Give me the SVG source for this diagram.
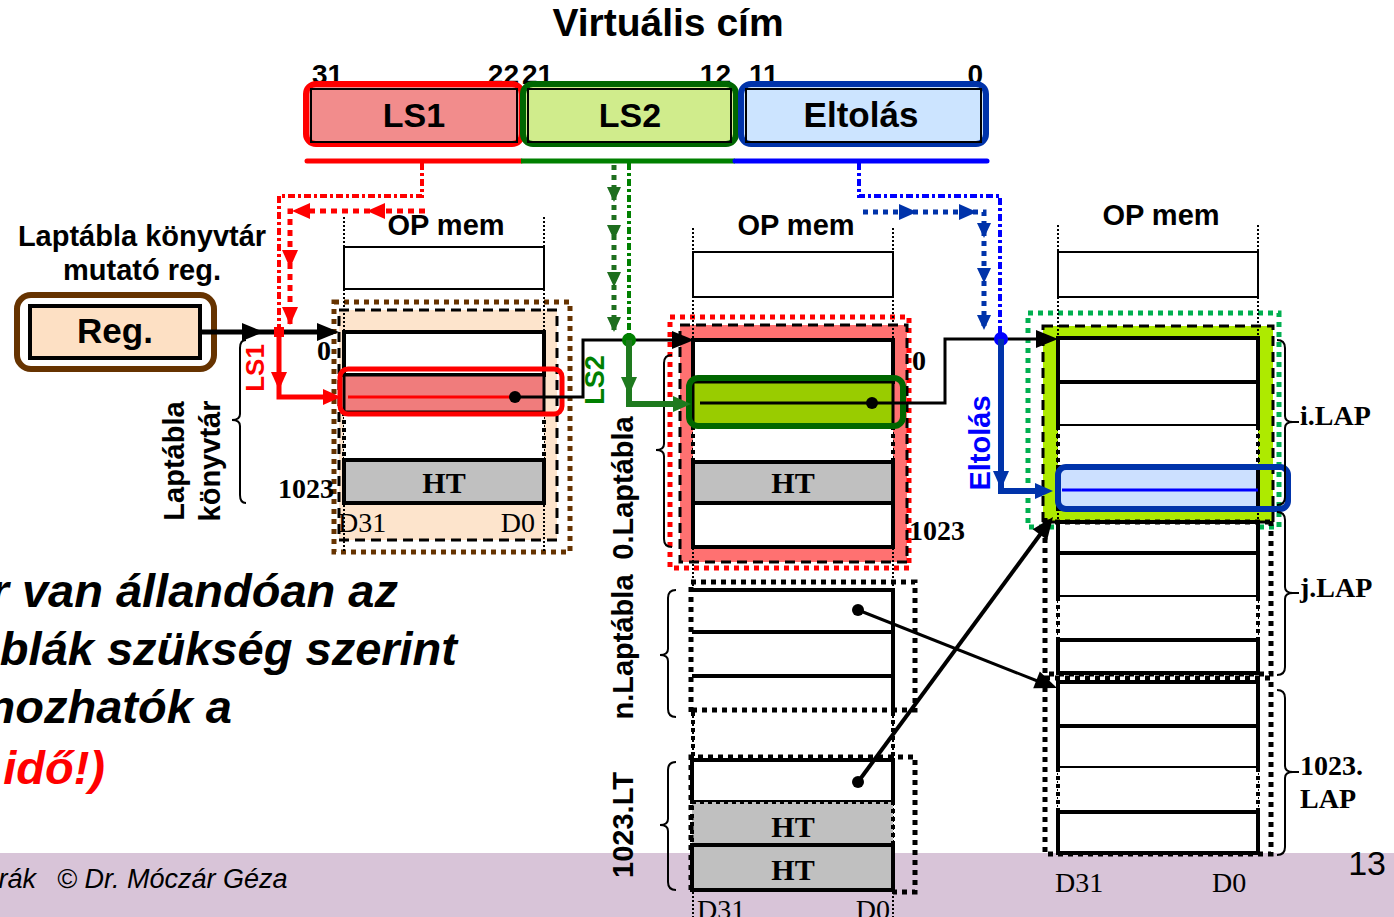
<svg xmlns="http://www.w3.org/2000/svg" width="1394" height="917" viewBox="0 0 1394 917">
<defs>
<style>
.sb{font-family:"Liberation Sans",Arial,Helvetica,sans-serif;font-weight:bold}
.sr{font-family:"Liberation Sans",Arial,Helvetica,sans-serif}
.fb{font-family:"Liberation Serif","Times New Roman",serif;font-weight:bold}
.fr{font-family:"Liberation Serif","Times New Roman",serif}
.cell{fill:#fff;stroke:#000;stroke-width:4}
.top{fill:#fff;stroke:#000;stroke-width:2}
.guide{fill:none;stroke:#000;stroke-width:2;stroke-dasharray:2 2}
.dside{fill:none;stroke:#000;stroke-width:4;stroke-dasharray:4 4}
.dotbox{fill:none;stroke:#000;stroke-width:5;stroke-dasharray:5 5}
.dash{fill:none;stroke:#000;stroke-width:3;stroke-dasharray:10 6}
.conn{fill:none;stroke:#000;stroke-width:3}
.brace{fill:none;stroke:#000;stroke-width:2}
.gray{fill:#C0C0C0;stroke:#000;stroke-width:4}
.mid{text-anchor:middle}
.end{text-anchor:end}
.note{font-family:"Liberation Sans",Arial,Helvetica,sans-serif;font-weight:bold;font-style:italic;font-size:47px;text-anchor:end}
</style>
<path id="ah" d="M0,0 L-18,-8 L-18,8 Z"/>
<path id="ahs" d="M0,0 L-15,-7 L-15,7 Z"/>
<path id="ahb" d="M0,0 L-22,-9 L-22,9 Z"/>
</defs>
<rect x="0" y="0" width="1394" height="917" fill="#fff"/>
<rect id="footer-band" x="0" y="853" width="1394" height="64" fill="#D8C4D8"/>

<g id="title">
<text class="sb mid" x="668" y="36" font-size="39">Virtuális cím</text>
<text class="sb" x="312" y="84" font-size="28">31</text>
<text class="sb end" x="519" y="84" font-size="28">22</text>
<text class="sb" x="522" y="84" font-size="28">21</text>
<text class="sb end" x="731" y="84" font-size="28">12</text>
<text class="sb" x="749" y="84" font-size="28">11</text>
<text class="sb end" x="983" y="84" font-size="28">0</text>
</g>

<g id="addr-ls1">
<rect x="306" y="84" width="216" height="60" rx="10" fill="#F28C8C" stroke="#FF0000" stroke-width="6"/>
<rect x="311" y="89" width="206" height="53" fill="none" stroke="#000" stroke-width="2"/>
<text class="sb mid" x="414" y="127" font-size="34">LS1</text>
</g>
<g id="addr-ls2">
<rect x="523" y="84" width="213" height="60" rx="10" fill="#D0EC8C" stroke="#006600" stroke-width="6"/>
<rect x="528" y="89" width="203" height="53" fill="none" stroke="#000" stroke-width="2"/>
<text class="sb mid" x="630" y="127" font-size="34">LS2</text>
</g>
<g id="addr-eltolas">
<rect x="741" y="84" width="245" height="60" rx="10" fill="#CCE4FF" stroke="#0033AA" stroke-width="6"/>
<rect x="746" y="89" width="235" height="53" fill="none" stroke="#000" stroke-width="2"/>
<text class="sb mid" x="861" y="127" font-size="35">Eltolás</text>
</g>

<g id="reg">
<text class="sb mid" x="142" y="246" font-size="29">Laptábla könyvtár</text>
<text class="sb mid" x="142" y="280" font-size="29">mutató reg.</text>
<rect x="17" y="295" width="197" height="74" rx="14" fill="#fff" stroke="#663300" stroke-width="6"/>
<rect x="30" y="306" width="170" height="52" fill="#FDE0C4" stroke="#000" stroke-width="4"/>
<text class="sb mid" x="115" y="343" font-size="35">Reg.</text>
</g>

<g id="col1">
<text class="sb mid" x="446" y="235" font-size="29">OP mem</text>
<rect x="339" y="310" width="218" height="230" fill="#FDE4CC"/>
<rect x="334" y="302" width="236" height="250" fill="none" stroke="#663300" stroke-width="5" stroke-dasharray="5 5"/>
<rect x="339" y="310" width="218" height="230" class="dash"/>
<line x1="344" y1="217" x2="344" y2="552" class="guide"/>
<line x1="544" y1="217" x2="544" y2="552" class="guide"/>
<rect x="344" y="247" width="200" height="42" class="top"/>
<rect x="344" y="332" width="200" height="43" class="cell"/>
<rect x="344" y="375" width="200" height="37" fill="#F07C7C" stroke="#000" stroke-width="3"/>
<rect x="344" y="412" width="200" height="48" fill="#fff"/>
<line x1="344" y1="412" x2="344" y2="460" class="dside"/>
<line x1="544" y1="412" x2="544" y2="460" class="dside"/>
<rect x="344" y="460" width="200" height="43" class="gray"/>
<text class="fb mid" x="444" y="493" font-size="30">HT</text>
<rect x="340" y="369" width="222" height="45" rx="8" fill="none" stroke="#FF0000" stroke-width="5"/>
<text class="fb end" x="331" y="360" font-size="28">0</text>
<text class="fb end" x="334" y="498" font-size="28">1023</text>
<text class="fr" x="338" y="532" font-size="28">D31</text>
<text class="fr end" x="535" y="532" font-size="28">D0</text>
<path class="brace" d="M246,340 Q240,340 240,348 V414 Q240,420 232,420 Q240,420 240,426 V495 Q240,503 246,503"/>
<text class="sb mid" transform="translate(184,461) rotate(-90)" font-size="29">Laptábla</text>
<text class="sb mid" transform="translate(220,461) rotate(-90)" font-size="29">könyvtár</text>
</g>

<g id="col2">
<text class="sb mid" x="796" y="235" font-size="29">OP mem</text>
<rect x="680" y="325" width="227" height="237" fill="#FF7171"/>
<rect x="670" y="317" width="239" height="251" fill="none" stroke="#FF0000" stroke-width="5" stroke-dasharray="5 5"/>
<rect x="680" y="325" width="227" height="237" class="dash"/>
<line x1="693" y1="228" x2="693" y2="917" class="guide"/>
<line x1="893" y1="228" x2="893" y2="917" class="guide"/>
<rect x="693" y="252" width="200" height="45" class="top"/>
<rect x="693" y="340" width="200" height="42" class="cell"/>
<rect x="693" y="382" width="200" height="44" fill="#99CC00" stroke="#000" stroke-width="3"/>
<rect x="693" y="426" width="200" height="36" fill="#fff"/>
<line x1="693" y1="426" x2="693" y2="462" class="dside"/>
<line x1="893" y1="426" x2="893" y2="462" class="dside"/>
<rect x="693" y="462" width="200" height="41" class="gray"/>
<text class="fb mid" x="793" y="493" font-size="30">HT</text>
<rect x="693" y="503" width="200" height="44" class="cell"/>
<rect x="689" y="378" width="214" height="48" rx="9" fill="none" stroke="#006600" stroke-width="6"/>
<text class="fb" x="912" y="370" font-size="28">0</text>
<text class="fb" x="909" y="540" font-size="28">1023</text>
<path class="brace" d="M672,355 Q664,355 664,363 V444 Q664,450 656,450 Q664,450 664,456 V539 Q664,547 672,547"/>
<text class="sb mid" transform="translate(633,488) rotate(-90)" font-size="29">0.Laptábla</text>
</g>

<g id="col2-n-laptabla">
<rect x="692" y="590" width="201" height="122" fill="#fff"/>
<path d="M692,590 H893 V712 M692,632 H893 M692,676 H893" fill="none" stroke="#000" stroke-width="4"/>
<path class="dotbox" d="M691,712 V582 H915 V710 H693"/>
<line x1="693" y1="712" x2="693" y2="757" class="dside"/>
<line x1="893" y1="712" x2="893" y2="757" class="dside"/>
<path class="brace" d="M676,590 Q668,590 668,598 V649 Q668,655 660,655 Q668,655 668,661 V709 Q668,717 676,717"/>
<text class="sb mid" transform="translate(633,647) rotate(-90)" font-size="29">n.Laptábla</text>
</g>

<g id="col2-1023-lt">
<rect x="692" y="760" width="201" height="42" class="cell"/>
<rect x="692" y="802" width="201" height="43" fill="#C0C0C0" stroke="#000" stroke-width="4" stroke-dasharray="4 4"/>
<rect x="692" y="845" width="201" height="45" class="gray"/>
<path class="dotbox" d="M691,890 V757 H915 V892 H893"/>
<text class="fb mid" x="793" y="837" font-size="30">HT</text>
<text class="fb mid" x="793" y="880" font-size="30">HT</text>
<text class="fr" x="697" y="919" font-size="28">D31</text>
<text class="fr end" x="890" y="919" font-size="28">D0</text>
<path class="brace" d="M676,762 Q668,762 668,770 V819 Q668,825 660,825 Q668,825 668,831 V882 Q668,890 676,890"/>
<text class="sb mid" transform="translate(633,825) rotate(-90)" font-size="29">1023.LT</text>
</g>

<g id="col3">
<text class="sb mid" x="1161" y="225" font-size="29">OP mem</text>
<rect x="1043" y="326" width="230" height="196" fill="#AEEA00"/>
<rect x="1028" y="313" width="251" height="214" fill="none" stroke="#00B050" stroke-width="5" stroke-dasharray="5 5"/>
<rect x="1043" y="326" width="230" height="196" class="dash"/>
<line x1="1058" y1="225" x2="1058" y2="855" class="guide"/>
<line x1="1258" y1="225" x2="1258" y2="855" class="guide"/>
<rect x="1058" y="252" width="200" height="45" class="top"/>
<rect x="1058" y="338" width="200" height="44" class="cell"/>
<rect x="1058" y="382" width="200" height="44" class="cell"/>
<rect x="1058" y="426" width="200" height="41" fill="#fff"/>
<line x1="1058" y1="426" x2="1058" y2="467" class="dside"/>
<line x1="1258" y1="426" x2="1258" y2="467" class="dside"/>
<rect x="1058" y="467" width="200" height="42" fill="#CCE0FF" stroke="#000" stroke-width="4"/>
<line x1="1062" y1="490" x2="1258" y2="490" stroke="#0000FF" stroke-width="3"/>
<rect x="1058" y="467" width="230" height="42" rx="8" fill="none" stroke="#0033AA" stroke-width="6"/>
<path class="brace" d="M1277,340 Q1285,340 1285,348 V416 Q1285,422 1293,422 Q1285,422 1285,428 V497 Q1285,505 1277,505 M1293,422 H1299"/>
<text class="fb" x="1300" y="425" font-size="28">i.LAP</text>
</g>

<g id="col3-j-lap">
<rect x="1058" y="522" width="200" height="31" class="cell"/>
<rect x="1058" y="553" width="200" height="44" class="cell"/>
<rect x="1058" y="597" width="200" height="43" fill="#fff"/>
<line x1="1058" y1="597" x2="1058" y2="640" class="dside"/>
<line x1="1258" y1="597" x2="1258" y2="640" class="dside"/>
<rect x="1058" y="640" width="200" height="33" class="cell"/>
<path class="dotbox" d="M1045,518 V674 H1271 V520 M1045,522 H1273"/>
<path class="brace" d="M1277,512 Q1285,512 1285,520 V587 Q1285,593 1293,593 Q1285,593 1285,599 V667 Q1285,675 1277,675 M1293,593 H1299"/>
<text class="fb" x="1300" y="597" font-size="28">j.LAP</text>
</g>

<g id="col3-1023-lap">
<rect x="1058" y="682" width="200" height="44" class="cell"/>
<rect x="1058" y="726" width="200" height="42" class="cell"/>
<rect x="1058" y="768" width="200" height="44" fill="#fff"/>
<line x1="1058" y1="768" x2="1058" y2="812" class="dside"/>
<line x1="1258" y1="768" x2="1258" y2="812" class="dside"/>
<rect x="1058" y="812" width="200" height="41" class="cell"/>
<rect x="1045" y="678" width="226" height="176" class="dotbox"/>
<path class="brace" d="M1277,690 Q1285,690 1285,698 V766 Q1285,772 1293,772 Q1285,772 1285,778 V847 Q1285,855 1277,855 M1293,772 H1299"/>
<text class="fb" x="1300" y="775" font-size="28">1023.</text>
<text class="fb" x="1300" y="808" font-size="28">LAP</text>
<text class="fr" x="1055" y="892" font-size="28">D31</text>
<text class="fr" x="1212" y="892" font-size="28">D0</text>
</g>

<g id="connectors">
<line x1="307" y1="161" x2="521" y2="161" stroke="#FF0000" stroke-width="5" stroke-linecap="round"/>
<line x1="521" y1="161" x2="735" y2="161" stroke="#008000" stroke-width="5"/>
<line x1="735" y1="161" x2="987" y2="161" stroke="#0000FF" stroke-width="5" stroke-linecap="round"/>

<path d="M422,163 V196 H279 V328" fill="none" stroke="#FF0000" stroke-width="4" stroke-dasharray="7 3 3 3"/>
<path d="M425,211 H290 V326" fill="none" stroke="#FF0000" stroke-width="5" stroke-dasharray="6 5"/>
<use href="#ah" fill="#FF0000" transform="translate(367,211) rotate(180)"/>
<use href="#ah" fill="#FF0000" transform="translate(292,211) rotate(180)"/>
<use href="#ah" fill="#FF0000" transform="translate(290,268) rotate(90)"/>
<use href="#ah" fill="#FF0000" transform="translate(290,325) rotate(90)"/>

<path d="M629,163 V336" fill="none" stroke="#008000" stroke-width="4" stroke-dasharray="7 3 3 3"/>
<path d="M614,165 V330" fill="none" stroke="#1E6E1E" stroke-width="5" stroke-dasharray="5 5"/>
<use href="#ahs" fill="#1E6E1E" transform="translate(614,202) rotate(90)"/>
<use href="#ahs" fill="#1E6E1E" transform="translate(614,240) rotate(90)"/>
<use href="#ahs" fill="#1E6E1E" transform="translate(614,287) rotate(90)"/>
<use href="#ahs" fill="#1E6E1E" transform="translate(614,332) rotate(90)"/>

<path d="M859,163 V196 H1000 V334" fill="none" stroke="#0000FF" stroke-width="4" stroke-dasharray="7 3 3 3"/>
<path d="M863,212 H984 V328" fill="none" stroke="#0033AA" stroke-width="5" stroke-dasharray="5 5"/>
<use href="#ah" fill="#0033AA" transform="translate(917,212)"/>
<use href="#ah" fill="#0033AA" transform="translate(977,212)"/>
<use href="#ahs" fill="#0033AA" transform="translate(984,238) rotate(90)"/>
<use href="#ahs" fill="#0033AA" transform="translate(984,283) rotate(90)"/>
<use href="#ahs" fill="#0033AA" transform="translate(984,330) rotate(90)"/>

<line x1="200" y1="332" x2="333" y2="332" stroke="#000" stroke-width="5"/>
<use href="#ahb" fill="#000" transform="translate(264,332)"/>
<use href="#ahb" fill="#000" transform="translate(339,332)"/>

<path d="M279,332 V397 H334" fill="none" stroke="#FF0000" stroke-width="5"/>
<rect x="274" y="327" width="10" height="10" fill="#FF0000"/>
<use href="#ah" fill="#FF0000" transform="translate(279,390) rotate(90)"/>
<use href="#ah" fill="#FF0000" transform="translate(341,397)"/>
<text class="sb mid" transform="translate(264,368) rotate(-90)" font-size="26" fill="#FF0000">LS1</text>

<line x1="348" y1="397" x2="515" y2="397" stroke="#FF0000" stroke-width="3"/>
<path class="conn" d="M515,397 H583 V340 H680"/>
<circle cx="515" cy="397" r="6" fill="#000"/>
<use href="#ahb" fill="#000" transform="translate(694,340)"/>

<circle cx="629" cy="340" r="7" fill="#008000"/>
<path d="M629,340 V404 H682" fill="none" stroke="#1E7A1E" stroke-width="6"/>
<use href="#ah" fill="#1E7A1E" transform="translate(629,395) rotate(90)"/>
<use href="#ah" fill="#1E7A1E" transform="translate(691,404)"/>
<text class="sb mid" transform="translate(604,380) rotate(-90)" font-size="27" fill="#008000">LS2</text>

<path class="conn" d="M700,403 H945 V339 H1040"/>
<circle cx="872" cy="403" r="6" fill="#000"/>
<use href="#ahb" fill="#000" transform="translate(1058,339)"/>

<circle cx="1001" cy="339" r="7" fill="#0000FF"/>
<path d="M1001,339 V491 H1040" fill="none" stroke="#0033AA" stroke-width="6"/>
<use href="#ah" fill="#0033AA" transform="translate(1001,489) rotate(90)"/>
<use href="#ah" fill="#0033AA" transform="translate(1053,491)"/>
<text class="sb mid" transform="translate(990,443) rotate(-90)" font-size="29" fill="#0000FF">Eltolás</text>

<line x1="858" y1="610" x2="1040" y2="682" stroke="#000" stroke-width="3"/>
<circle cx="858" cy="610" r="6" fill="#000"/>
<use href="#ahb" fill="#000" transform="translate(1057,688) rotate(21.4)"/>
<line x1="858" y1="782" x2="1042" y2="532" stroke="#000" stroke-width="4"/>
<circle cx="858" cy="782" r="6" fill="#000"/>
<use href="#ahb" fill="#000" transform="translate(1053,517) rotate(-53.6)"/>
</g>

<g id="note">
<text class="note" x="398" y="607">r van állandóan az</text>
<text class="note" x="457" y="665">blák szükség szerint</text>
<text class="note" x="232" y="723">nozhatók a</text>
<text class="note" x="105" y="784" fill="#FF0000">idő!)</text>
</g>

<g id="footer">
<text class="sr end" x="36" y="888" font-size="27" font-style="italic">rák</text>
<text class="sr" x="57" y="888" font-size="27" font-style="italic">© Dr. Móczár Géza</text>
<text class="sr end" x="1386" y="875" font-size="34">13</text>
</g>
</svg>
